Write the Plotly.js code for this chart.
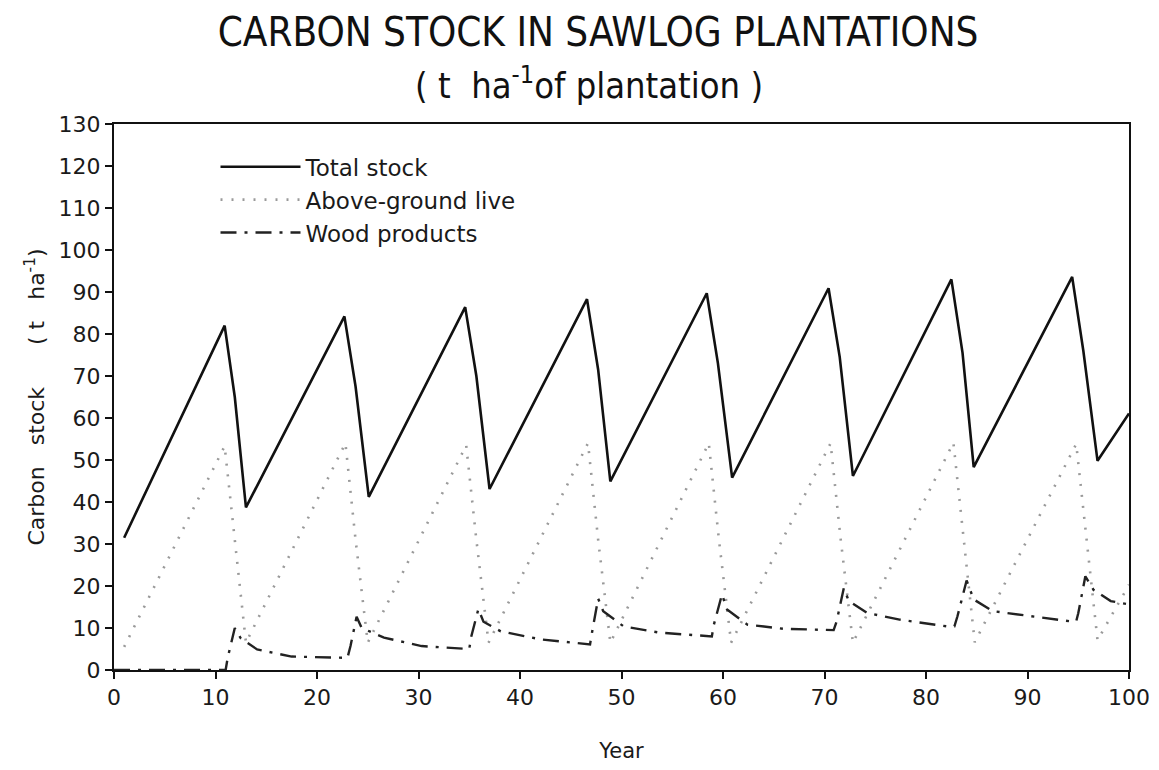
<!DOCTYPE html>
<html>
<head>
<meta charset="utf-8">
<script src="https://cdn.plot.ly/plotly-3.0.1.min.js"></script>
<style>
  html, body { margin: 0; padding: 0; background: #ffffff; }
  #chart { width: 1159px; height: 770px; }
</style>
</head>
<body>
<div id="chart"></div>
<script>
// ---- Data ----
var titleLine1 = "CARBON STOCK IN SAWLOG PLANTATIONS";
var titleLine2 = "( t  ha<sup>-1</sup>of plantation )";
var seriesNames = ["Total stock", "Above-ground live", "Wood products"];

var yearsTotal = [1, 10.9, 11.9, 13.0, 22.7, 23.8, 25.1, 34.6, 35.7, 37.0, 46.6, 47.7, 48.9,
                  58.4, 59.5, 60.9, 70.4, 71.5, 72.8, 82.5, 83.6, 84.7, 94.4, 95.5, 96.9, 100];
var totalStock = [31.5, 82.0, 65.0, 38.7, 84.2, 67.5, 41.2, 86.4, 70.0, 43.1, 88.3, 71.5, 44.9,
                  89.7, 73.0, 45.8, 90.9, 74.5, 46.2, 93.0, 75.5, 48.3, 93.6, 76.0, 49.8, 61.1];

var yearsAbove = [1, 10.9, 11.9, 13.0, 22.8, 23.8, 25.0, 34.7, 35.7, 36.9, 46.7, 47.7, 48.9,
                  58.6, 59.6, 60.8, 70.6, 71.6, 72.8, 82.7, 83.7, 84.8, 94.8, 95.8, 96.9, 100];
var aboveGround = [5.5, 53.3, 31.0, 6.5, 54.0, 31.0, 6.5, 53.5, 31.0, 6.5, 54.0, 31.0, 6.5,
                   54.0, 31.0, 6.5, 54.0, 31.0, 6.5, 54.1, 31.5, 6.6, 53.8, 31.6, 7.1, 20.3];

var yearsWood = [0, 11.0, 11.2, 11.9, 12.5, 14.1, 17.5, 22.5,
                 23.0, 23.3, 23.9, 24.4, 26.6, 30.3, 34.5,
                 35.0, 35.2, 35.9, 36.4, 38.1, 42.0, 46.3,
                 46.9, 47.1, 47.7, 48.2, 50.2, 53.7, 58.1,
                 58.9, 59.1, 59.9, 60.4, 62.4, 66.0, 69.9,
                 70.9, 71.2, 71.9, 72.4, 74.2, 77.4, 82.0,
                 82.8, 83.1, 84.0, 84.7, 86.6, 90.3, 94.2,
                 94.8, 95.0, 95.7, 96.5, 98.2, 100];
var woodProducts = [0, 0, 2.9, 10.0, 7.5, 4.9, 3.2, 2.9,
                    2.9, 5.7, 12.7, 10.0, 7.7, 5.7, 5.0,
                    5.0, 8.0, 14.5, 11.5, 9.2, 7.3, 6.1,
                    6.1, 9.0, 17.0, 14.0, 10.4, 8.9, 8.0,
                    8.0, 10.8, 18.0, 14.4, 10.8, 9.8, 9.5,
                    9.5, 11.6, 19.5, 16.4, 13.6, 12.0, 10.4,
                    10.4, 12.8, 21.3, 16.8, 14.0, 12.8, 11.6,
                    11.6, 13.5, 22.3, 19.1, 16.4, 15.6];

// ---- Chart ----
var fontMain = "DejaVu Sans, Liberation Sans, sans-serif";
var fontTitle = "DejaVu Sans Condensed, Liberation Sans Narrow, Liberation Sans, sans-serif";

var traces = [
  {
    x: yearsTotal, y: totalStock, name: seriesNames[0], type: "scatter", mode: "lines",
    line: { color: "#111111", width: 2.6 }, legendgroup: "a"
  },
  {
    x: yearsAbove, y: aboveGround, name: seriesNames[1], type: "scatter", mode: "lines",
    line: { color: "#9a9a9a", width: 2.6, dash: "2px,9px" }, legendgroup: "b"
  },
  {
    x: yearsWood, y: woodProducts, name: seriesNames[2], type: "scatter", mode: "lines",
    line: { color: "#222222", width: 2.4, dash: "16px,8px,3px,8px" }, legendgroup: "c"
  }
];

var layout = {
  width: 1159, height: 770,
  paper_bgcolor: "#ffffff", plot_bgcolor: "#ffffff",
  margin: { l: 113.5, r: 30, t: 123.5, b: 99.5 },
  font: { family: fontMain, color: "#1a1a1a", size: 20 },
  title: {
    text: titleLine1,
    font: { family: fontTitle, size: 40, color: "#111111" },
    x: 0.516, xanchor: "center",
    y: 0.958, yanchor: "middle", yref: "container"
  },
  annotations: [
    {
      text: titleLine2, xref: "paper", yref: "paper",
      x: 0.468, y: 1.075, xanchor: "center", yanchor: "middle",
      showarrow: false,
      font: { family: fontTitle, size: 36, color: "#111111" }
    }
  ],
  showlegend: true,
  legend: {
    x: 0.1, y: 0.961, xanchor: "left", yanchor: "top",
    bgcolor: "rgba(0,0,0,0)", borderwidth: 0,
    font: { family: fontMain, size: 23, color: "#1a1a1a" },
    tracegroupgap: 3, traceorder: "normal", itemwidth: 80
  },
  xaxis: {
    range: [0, 100], tickmode: "linear", tick0: 0, dtick: 10,
    showline: true, linecolor: "#111111", linewidth: 2, mirror: true,
    ticks: "outside", ticklen: 7, tickwidth: 2, tickcolor: "#111111",
    showgrid: false, zeroline: false,
    tickfont: { family: fontMain, size: 22, color: "#1a1a1a" },
    title: { text: "Year", standoff: 34, font: { family: fontMain, size: 21, color: "#1a1a1a" } }
  },
  yaxis: {
    range: [0, 130], tickmode: "linear", tick0: 0, dtick: 10,
    showline: true, linecolor: "#111111", linewidth: 2, mirror: true,
    ticks: "outside", ticklen: 7, tickwidth: 2, tickcolor: "#111111",
    showgrid: false, zeroline: false,
    tickfont: { family: fontMain, size: 22, color: "#1a1a1a" },
    title: { text: "Carbon   stock      ( t   ha<sup>-1</sup>)", standoff: 8, font: { family: fontMain, size: 22, color: "#1a1a1a" } }
  }
};

Plotly.newPlot("chart", traces, layout, { displayModeBar: false, responsive: false });
</script>
</body>
</html>
